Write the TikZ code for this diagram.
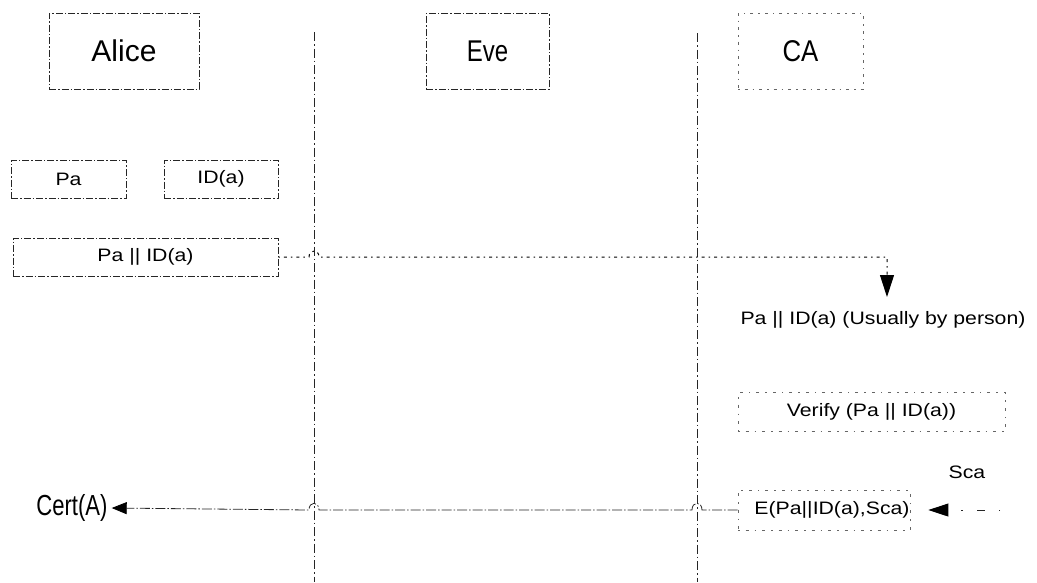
\documentclass[tikz,border=0pt]{standalone}
\usepackage{fontspec}
\usepackage{graphicx}
\setmainfont{Liberation Sans}
\usetikzlibrary{arrows.meta,calc}
\newcommand{\smtxt}[1]{\scalebox{1.18}[1]{#1}}
\begin{document}
\begin{tikzpicture}[x=1pt,y=-1pt,
  bigfont/.style={font=\fontsize{30}{32}\selectfont},
  smfont/.style={font=\fontsize{18}{20}\selectfont},
  actor/.style={draw=black!85, line width=0.8pt, dash pattern=on 7pt off 2pt on 1.5pt off 2pt, minimum height=76pt, inner sep=0pt},
  lightactor/.style={draw=black!60, line width=0.8pt, dash pattern=on 1.5pt off 5pt on 3pt off 5pt, minimum height=76pt, inner sep=0pt},
  databox/.style={draw=black!85, line width=0.8pt, dash pattern=on 7pt off 2pt on 1.5pt off 2pt, minimum height=38pt, inner sep=0pt, smfont},
  lightbox/.style={draw=black!60, line width=0.8pt, dash pattern=on 1.5pt off 6pt on 3pt off 6pt, minimum height=39pt, inner sep=0pt, smfont},
  lifeline/.style={draw=black!85, line width=0.8pt, dash pattern=on 9pt off 3pt on 1.5pt off 3pt},
  dotmsg/.style={draw=black, line width=1pt, dash pattern=on 1.5pt off 4pt on 3pt off 4pt},
  sparse/.style={draw=black!85, line width=0.9pt, dash pattern=on 1.5pt off 14pt on 8pt off 14pt},
  retmsg/.style={draw=black!85, line width=0.8pt, dash pattern=on 10pt off 2pt on 1.5pt off 2pt},
  plain/.style={inner sep=0pt}
]
\useasboundingbox (0,0) rectangle (1037,582);
% actors
\node[actor, bigfont, minimum width=150pt] (alice) at (124,51) {Alice};
\node[actor, bigfont, minimum width=123pt] (eve) at (487.5,51) {\scalebox{0.8}[1]{Eve}};
\node[lightactor, bigfont, minimum width=125pt] (ca) at (800.5,51) {\scalebox{0.86}[1]{CA}};
% lifelines
\coordinate (lAt) at (314,32);
\coordinate (lAb) at (314,582);
\coordinate (lBt) at (697,33);
\coordinate (lBb) at (697,582);
\draw[lifeline] (lAt) -- (lAb);
\draw[lifeline] (lBt) -- (lBb);
% Alice data
\node[databox, minimum width=115pt] (pa) at (68.5,179) {\raisebox{-2pt}{\smtxt{Pa}}};
\node[databox, minimum width=114pt] (ida) at (221,179) {\raisebox{-2pt}{\smtxt{ID(a)}}};
\node[databox, minimum width=265pt] (pid) at (145.5,257) {\raisebox{-3pt}{\smtxt{Pa || ID(a)}}};
% CA side
\node[plain, smfont] (catext) at (883,320) {\smtxt{Pa || ID(a) (Usually by person)}};
\coordinate (cacorner) at (887,257);
\coordinate (catip) at (887,297);
\node[lightbox, minimum width=267pt] (verify) at (871.5,412) {\smtxt{Verify (Pa || ID(a))}};
\node[lightbox, minimum width=172pt, minimum height=40pt] (ebox) at (824,510) {\hspace*{16pt}\smtxt{E(Pa||ID(a),Sca)}};
\node[plain, smfont] (sca) at (967,472) {\smtxt{Sca}};
\coordinate (scasrc) at (1000,510);
\node[plain, font=\fontsize{29}{31}\selectfont] (cert) at (72,508) {\scalebox{0.76}[1]{Cert(A)}};
% message Alice -> CA
\draw[dotmsg, -{Triangle[length=22pt,width=14pt,color=black]}]
  (pid.east) -- ([xshift=-5pt]pid.east -| lAt)
  .. controls +(0,-8) and +(0,-8) .. ([xshift=5pt]pid.east -| lAt)
  -- (cacorner) -- (catip);
% Sca -> E
\draw[sparse, -{Triangle[length=20pt,width=13pt,color=black]}] (scasrc) -- ([xshift=18pt]ebox.east);
% certificate back to Alice
\draw[retmsg, -{Triangle[length=15pt,width=12pt,color=black]}]
  (ebox.west) -- ([xshift=5pt]ebox.west -| lBt)
  .. controls +(0,-9) and +(0,-9) .. ([xshift=-5pt]ebox.west -| lBt)
  -- ([xshift=5pt]ebox.west -| lAt)
  .. controls +(0,-9) and +(0,-9) .. ([xshift=-5pt]ebox.west -| lAt)
  -- ([xshift=4pt]cert.east);
\end{tikzpicture}
\end{document}
